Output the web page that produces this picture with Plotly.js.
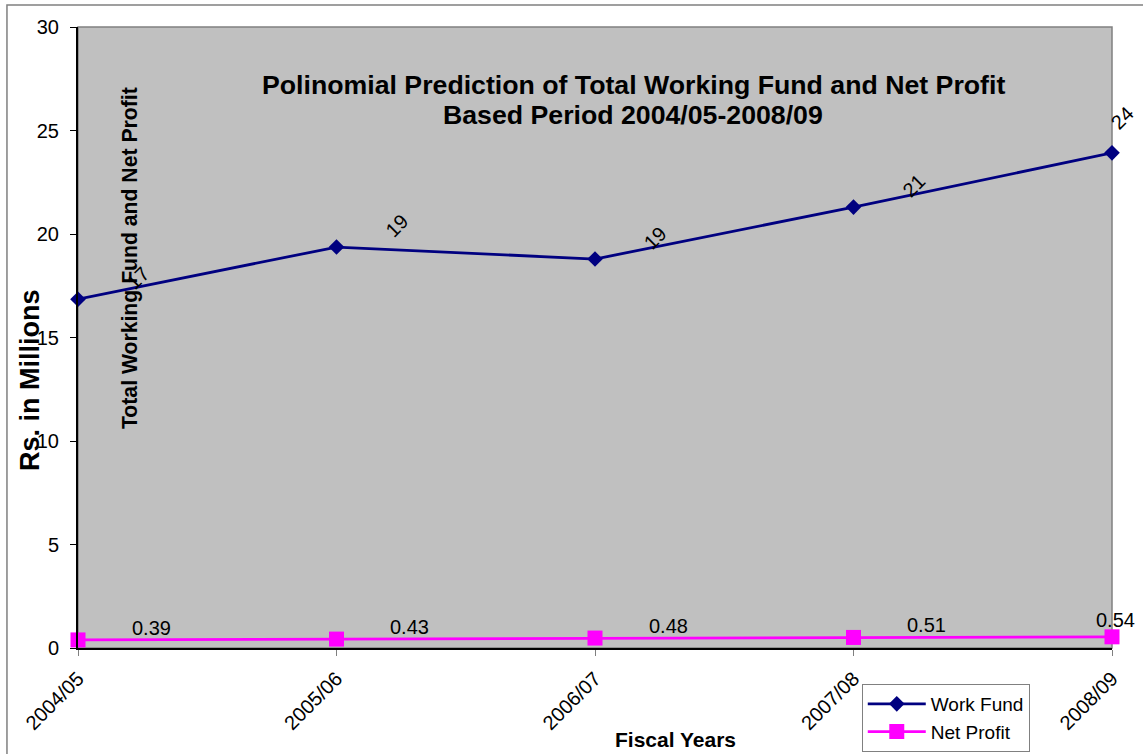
<!DOCTYPE html>
<html><head><meta charset="utf-8">
<script src="https://cdn.plot.ly/plotly-3.0.1.min.js"></script>
<style>body{margin:0;background:#fff}#c{width:1143px;height:754px}</style>
</head><body><div id="c"></div>
<script>
var years = ["2004/05","2005/06","2006/07","2007/08","2008/09"];
var workFund = [16.85, 19.37, 18.79, 21.30, 23.92];
var netProfit = [0.39, 0.43, 0.48, 0.51, 0.54];
var yTicks = [0,5,10,15,20,25,30];
var titleLines = ["Polinomial Prediction of Total Working Fund and Net Profit", "Based Period 2004/05-2008/09"];

var FONT = "Liberation Sans, Arial, sans-serif";
var traces = [
  {x: years, y: workFund, name: "Work Fund", type: "scatter", mode: "lines+markers",
   line: {color: "#000080", width: 2.8}, marker: {symbol: "diamond", size: 12, color: "#000080"}, cliponaxis: false},
  {x: years, y: netProfit, name: "Net Profit", type: "scatter", mode: "lines+markers",
   line: {color: "#FF00FF", width: 2.8}, marker: {symbol: "square", size: 15, color: "#FF00FF"}, cliponaxis: false}
];

function paperAnn(x, y, text, size, angle){
  return {xref: "paper", yref: "paper", x: x, y: y, xanchor: "center", yanchor: "middle",
    showarrow: false, text: text, textangle: angle || 0, font: {family: FONT, size: size, color: "#000"}};
}

var ann = [];
years.forEach(function(yr, i){
  var last = i === years.length - 1;
  ann.push({x: yr, y: workFund[i], xref: "x", yref: "y", xanchor: "center", yanchor: "middle",
    text: String(Math.round(workFund[i])),
    showarrow: false, textangle: -45, font: {family: FONT, size: 20, color: "#000"},
    xshift: last ? 10 : 60, yshift: last ? 35 : 21});
  ann.push({x: yr, y: netProfit[i], xref: "x", yref: "y", xanchor: "center", yanchor: "middle",
    text: netProfit[i].toFixed(2),
    showarrow: false, font: {family: FONT, size: 20, color: "#000"},
    xshift: last ? 3 : 73, yshift: last ? 17 : 12});
});
ann.push(paperAnn(0.537, 0.906, "<b>" + titleLines[0] + "</b>", 26.7));
ann.push(paperAnn(0.537, 0.859, "<b>" + titleLines[1] + "</b>", 26.7));
ann.push(paperAnn(0.0503, 0.628, "<b>Total Working Fund and Net Profit</b>", 21.2, -90));
ann.push(paperAnn(-0.0464, 0.4316, "<b>Rs. in Millions</b>", 27, -90));
ann.push(paperAnn(0.578, -0.148, "<b>Fiscal Years</b>", 21));

var layout = {
  width: 1143, height: 754,
  margin: {l: 78, r: 31, t: 27, b: 106, autoexpand: false},
  paper_bgcolor: "#fff", plot_bgcolor: "#C0C0C0",
  font: {family: FONT, size: 20, color: "#000"},
  showlegend: true,
  legend: {x: 0.758, y: -0.058, xanchor: "left", yanchor: "top", bgcolor: "#fff",
    bordercolor: "#808080", borderwidth: 1, itemwidth: 58, tracegroupgap: 0,
    font: {family: FONT, size: 19, color: "#000"}},
  xaxis: {type: "category", range: [0, years.length - 1], showgrid: false, zeroline: false,
    showline: true, linecolor: "#000", linewidth: 2, ticks: "outside", ticklen: 6, tickcolor: "#808080",
    tickangle: -45, ticklabelstandoff: 3, tickfont: {family: FONT, size: 20, color: "#000"}},
  yaxis: {range: [0, 30], tickvals: yTicks, showgrid: false, zeroline: false,
    showline: true, linecolor: "#000", linewidth: 2, ticks: "outside", ticklen: 6, tickcolor: "#000",
    ticklabelstandoff: 7, tickfont: {family: FONT, size: 20, color: "#000"}},
  shapes: [
    {type: "rect", xref: "paper", yref: "paper", x0: 0, x1: 1, y0: 0, y1: 1,
     line: {color: "#808080", width: 1.5}, layer: "below"},
    {type: "rect", xref: "paper", yref: "paper", x0: -0.0687, x1: 1.05, y0: -0.2, y1: 1.0354,
     line: {color: "#808080", width: 1.5}, layer: "below"}
  ],
  annotations: ann
};
Plotly.newPlot("c", traces, layout, {displayModeBar: false, staticPlot: true});
</script></body></html>
